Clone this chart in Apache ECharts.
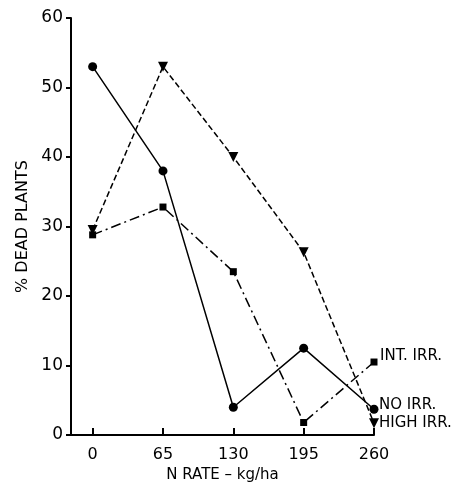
<!DOCTYPE html>
<html>
<head>
<meta charset="utf-8">
<script src="https://cdn.jsdelivr.net/npm/echarts@6/dist/echarts.min.js"></script>
<style>
  html, body { margin: 0; padding: 0; background: #fff; }
  #chart { width: 460px; height: 491px; }
</style>
</head>
<body>
<div id="chart"></div>
<script>
// N rate, kg/ha
var nRates = [0, 65, 130, 195, 260];
var noIrr = [53, 38, 4, 12.5, 3.7];
var highIrr = [29.5, 53, 40, 26.3, 1.7];
var intIrr = [28.8, 32.8, 23.5, 1.8, 10.5];

var myChart = echarts.init(document.getElementById('chart'));
var font = 'DejaVu Sans';

function pairs(vals) {
  return nRates.map(function (x, i) { return [x, vals[i]]; });
}

function serie(name, vals, symbol, size, dash, rotate, labelOffset) {
  return {
    name: name,
    type: 'line',
    data: pairs(vals),
    symbol: symbol,
    symbolSize: size,
    symbolRotate: rotate,
    itemStyle: { color: '#000' },
    lineStyle: { color: '#000', width: 1.5, type: dash },
    endLabel: {
      show: true,
      formatter: name,
      color: '#000',
      fontFamily: font,
      fontSize: 15,
      offset: labelOffset
    },
    animation: false
  };
}

var option = {
  backgroundColor: '#fff',
  grid: { left: 71, top: 18, right: 86, bottom: 56 },
  xAxis: {
    type: 'value',
    min: -20,
    max: 260,
    name: 'N RATE – kg/ha',
    nameLocation: 'middle',
    nameGap: 32,
    nameTextStyle: { color: '#000', fontFamily: font, fontSize: 15 },
    axisLine: { lineStyle: { color: '#000', width: 2 } },
    axisTick: { inside: true, length: 7, customValues: nRates, lineStyle: { color: '#000', width: 2 } },
    axisLabel: { customValues: nRates, color: '#000', fontFamily: font, fontSize: 16, margin: 12 },
    splitLine: { show: false }
  },
  yAxis: {
    type: 'value',
    min: 0,
    max: 60,
    interval: 10,
    name: '% DEAD PLANTS',
    nameLocation: 'middle',
    nameGap: 40,
    nameTextStyle: { color: '#000', fontFamily: font, fontSize: 16 },
    axisLine: { show: true, onZero: false, lineStyle: { color: '#000', width: 2 } },
    axisTick: { show: true, length: 5, lineStyle: { color: '#000', width: 2 } },
    axisLabel: { color: '#000', fontFamily: font, fontSize: 17, margin: 8 },
    splitLine: { show: false }
  },
  series: [
    serie('NO IRR.', noIrr, 'circle', 9, 'solid', 0, [-3, -4]),
    serie('HIGH IRR.', highIrr, 'triangle', 10, 'dashed', 180, [-3, 0]),
    serie('INT. IRR.', intIrr, 'rect', 7, [10, 4, 2, 4], 0, [-2, -6])
  ]
};

myChart.setOption(option);
</script>
</body>
</html>
